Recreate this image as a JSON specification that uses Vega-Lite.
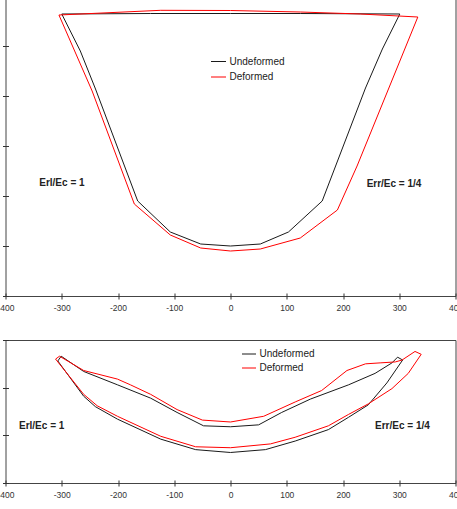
{
  "$schema": "https://vega.github.io/schema/vega-lite/v6.json",
  "padding": {"left": -4.5, "top": -5, "right": 0, "bottom": 0},
  "background": "white",
  "spacing": 27,
  "config": {
    "font": "Liberation Sans",
    "view": {"stroke": "#444444", "strokeWidth": 1},
    "axis": {
      "grid": false,
      "domain": false,
      "ticks": true,
      "tickSize": 6,
      "offset": -3,
      "tickColor": "#333333",
      "labelFontSize": 8.5,
      "labelColor": "#333333",
      "labelPadding": 4,
      "labelFlush": false,
      "labelExpr": "toString(datum.value)",
      "title": null
    },
    "legend": {
      "orient": "none",
      "title": null,
      "padding": 0,
      "symbolType": "stroke",
      "symbolStrokeWidth": 1,
      "labelFontSize": 10,
      "labelColor": "#222222",
      "labelOffset": 3
    },
    "text": {"font": "Liberation Sans"}
  },
  "resolve": {"legend": {"color": "independent"}},
  "vconcat": [
    {
      "width": 450,
      "height": 300,
      "layer": [
        {
          "data": {
            "values": [
              {"series": "Undeformed", "i": 1, "x": -300, "y": 282},
              {"series": "Undeformed", "i": 2, "x": -267, "y": 245},
              {"series": "Undeformed", "i": 3, "x": -240, "y": 207},
              {"series": "Undeformed", "i": 4, "x": -165, "y": 95},
              {"series": "Undeformed", "i": 5, "x": -107, "y": 64},
              {"series": "Undeformed", "i": 6, "x": -53, "y": 52},
              {"series": "Undeformed", "i": 7, "x": 0, "y": 50},
              {"series": "Undeformed", "i": 8, "x": 53, "y": 52},
              {"series": "Undeformed", "i": 9, "x": 103, "y": 64},
              {"series": "Undeformed", "i": 10, "x": 163, "y": 95},
              {"series": "Undeformed", "i": 11, "x": 240, "y": 208},
              {"series": "Undeformed", "i": 12, "x": 270, "y": 247},
              {"series": "Undeformed", "i": 13, "x": 301, "y": 282},
              {"series": "Undeformed", "i": 14, "x": 124, "y": 282.5},
              {"series": "Undeformed", "i": 15, "x": 0, "y": 282.5},
              {"series": "Undeformed", "i": 16, "x": -142, "y": 282.5},
              {"series": "Undeformed", "i": 17, "x": -300, "y": 282},
              {"series": "Deformed", "i": 1, "x": -305, "y": 281},
              {"series": "Deformed", "i": 2, "x": -246, "y": 205},
              {"series": "Deformed", "i": 3, "x": -171, "y": 92},
              {"series": "Deformed", "i": 4, "x": -107, "y": 61},
              {"series": "Deformed", "i": 5, "x": -53, "y": 48},
              {"series": "Deformed", "i": 6, "x": 0, "y": 45},
              {"series": "Deformed", "i": 7, "x": 53, "y": 47},
              {"series": "Deformed", "i": 8, "x": 124, "y": 58},
              {"series": "Deformed", "i": 9, "x": 190, "y": 86},
              {"series": "Deformed", "i": 10, "x": 225, "y": 130},
              {"series": "Deformed", "i": 11, "x": 333, "y": 279},
              {"series": "Deformed", "i": 12, "x": 231, "y": 282},
              {"series": "Deformed", "i": 13, "x": 124, "y": 284},
              {"series": "Deformed", "i": 14, "x": 0, "y": 285.5},
              {"series": "Deformed", "i": 15, "x": -124, "y": 285.7},
              {"series": "Deformed", "i": 16, "x": -305, "y": 281}
            ]
          },
          "mark": {"type": "line", "strokeWidth": 1},
          "encoding": {
            "x": {"field": "x", "type": "quantitative", "scale": {"domain": [-400, 400], "nice": false}, "axis": {"values": [-400, -300, -200, -100, 0, 100, 200, 300, 400]}},
            "y": {"field": "y", "type": "quantitative", "scale": {"domain": [0, 300], "nice": false}, "axis": {"values": [0, 50, 100, 150, 200, 250, 300], "labels": false}},
            "order": {"field": "i", "type": "quantitative"},
            "color": {
              "field": "series",
              "type": "nominal",
              "scale": {"domain": ["Undeformed", "Deformed"], "range": ["#1a1a1a", "#ff0000"]},
              "legend": {"legendX": 205, "legendY": 57.5, "symbolSize": 225, "rowPadding": 2.5}
            }
          }
        },
        {
          "data": {
            "values": [
              {"label": "Erl/Ec = 1", "x": -340, "y": 113},
              {"label": "Err/Ec = 1/4", "x": 242, "y": 112}
            ]
          },
          "mark": {"type": "text", "fontWeight": "bold", "fontSize": 10, "align": "left", "baseline": "middle", "color": "#222222"},
          "encoding": {
            "x": {"field": "x", "type": "quantitative"},
            "y": {"field": "y", "type": "quantitative"},
            "text": {"field": "label"}
          }
        }
      ]
    },
    {
      "width": 450,
      "height": 143,
      "layer": [
        {
          "data": {
            "values": [
              {"series": "Undeformed", "i": 1, "x": -307, "y": 128},
              {"series": "Undeformed", "i": 2, "x": -301, "y": 133},
              {"series": "Undeformed", "i": 3, "x": -261, "y": 117},
              {"series": "Undeformed", "i": 4, "x": -201, "y": 103},
              {"series": "Undeformed", "i": 5, "x": -142, "y": 89},
              {"series": "Undeformed", "i": 6, "x": -95, "y": 74},
              {"series": "Undeformed", "i": 7, "x": -48, "y": 60},
              {"series": "Undeformed", "i": 8, "x": 0, "y": 59},
              {"series": "Undeformed", "i": 9, "x": 50, "y": 61},
              {"series": "Undeformed", "i": 10, "x": 91, "y": 74},
              {"series": "Undeformed", "i": 11, "x": 142, "y": 88},
              {"series": "Undeformed", "i": 12, "x": 210, "y": 103},
              {"series": "Undeformed", "i": 13, "x": 257, "y": 115},
              {"series": "Undeformed", "i": 14, "x": 287, "y": 126},
              {"series": "Undeformed", "i": 15, "x": 297, "y": 132},
              {"series": "Undeformed", "i": 16, "x": 306, "y": 129},
              {"series": "Undeformed", "i": 17, "x": 278, "y": 105},
              {"series": "Undeformed", "i": 18, "x": 245, "y": 82},
              {"series": "Undeformed", "i": 19, "x": 210, "y": 69},
              {"series": "Undeformed", "i": 20, "x": 174, "y": 56},
              {"series": "Undeformed", "i": 21, "x": 115, "y": 44},
              {"series": "Undeformed", "i": 22, "x": 62, "y": 35},
              {"series": "Undeformed", "i": 23, "x": 0, "y": 32},
              {"series": "Undeformed", "i": 24, "x": -62, "y": 35},
              {"series": "Undeformed", "i": 25, "x": -124, "y": 46},
              {"series": "Undeformed", "i": 26, "x": -201, "y": 67},
              {"series": "Undeformed", "i": 27, "x": -240, "y": 80},
              {"series": "Undeformed", "i": 28, "x": -261, "y": 91},
              {"series": "Undeformed", "i": 29, "x": -307, "y": 128},
              {"series": "Deformed", "i": 1, "x": -311, "y": 130},
              {"series": "Deformed", "i": 2, "x": -304, "y": 133},
              {"series": "Deformed", "i": 3, "x": -261, "y": 118},
              {"series": "Deformed", "i": 4, "x": -201, "y": 109},
              {"series": "Deformed", "i": 5, "x": -178, "y": 103},
              {"series": "Deformed", "i": 6, "x": -142, "y": 93},
              {"series": "Deformed", "i": 7, "x": -95, "y": 77},
              {"series": "Deformed", "i": 8, "x": -50, "y": 66},
              {"series": "Deformed", "i": 9, "x": 0, "y": 64},
              {"series": "Deformed", "i": 10, "x": 59, "y": 70},
              {"series": "Deformed", "i": 11, "x": 115, "y": 85},
              {"series": "Deformed", "i": 12, "x": 162, "y": 97},
              {"series": "Deformed", "i": 13, "x": 207, "y": 118},
              {"series": "Deformed", "i": 14, "x": 240, "y": 125},
              {"series": "Deformed", "i": 15, "x": 266, "y": 126},
              {"series": "Deformed", "i": 16, "x": 293, "y": 127},
              {"series": "Deformed", "i": 17, "x": 305, "y": 129},
              {"series": "Deformed", "i": 18, "x": 328, "y": 138},
              {"series": "Deformed", "i": 19, "x": 339, "y": 135},
              {"series": "Deformed", "i": 20, "x": 316, "y": 115},
              {"series": "Deformed", "i": 21, "x": 287, "y": 99},
              {"series": "Deformed", "i": 22, "x": 245, "y": 83},
              {"series": "Deformed", "i": 23, "x": 210, "y": 72},
              {"series": "Deformed", "i": 24, "x": 174, "y": 60},
              {"series": "Deformed", "i": 25, "x": 115, "y": 48},
              {"series": "Deformed", "i": 26, "x": 71, "y": 41},
              {"series": "Deformed", "i": 27, "x": 0, "y": 37},
              {"series": "Deformed", "i": 28, "x": -62, "y": 38},
              {"series": "Deformed", "i": 29, "x": -124, "y": 49},
              {"series": "Deformed", "i": 30, "x": -201, "y": 70},
              {"series": "Deformed", "i": 31, "x": -237, "y": 81},
              {"series": "Deformed", "i": 32, "x": -261, "y": 93},
              {"series": "Deformed", "i": 33, "x": -311, "y": 130}
            ]
          },
          "mark": {"type": "line", "strokeWidth": 1},
          "encoding": {
            "x": {"field": "x", "type": "quantitative", "scale": {"domain": [-400, 400], "nice": false}, "axis": {"values": [-400, -300, -200, -100, 0, 100, 200, 300, 400]}},
            "y": {"field": "y", "type": "quantitative", "scale": {"domain": [0, 150], "nice": false}, "axis": {"values": [0, 50, 100, 150], "labels": false}},
            "order": {"field": "i", "type": "quantitative"},
            "color": {
              "field": "series",
              "type": "nominal",
              "scale": {"domain": ["Undeformed", "Deformed"], "range": ["#1a1a1a", "#ff0000"]},
              "legend": {"legendX": 236, "legendY": 6.5, "symbolSize": 196, "rowPadding": 1}
            }
          }
        },
        {
          "data": {
            "values": [
              {"label": "Erl/Ec = 1", "x": -376, "y": 60},
              {"label": "Err/Ec = 1/4", "x": 257, "y": 60}
            ]
          },
          "mark": {"type": "text", "fontWeight": "bold", "fontSize": 10, "align": "left", "baseline": "middle", "color": "#222222"},
          "encoding": {
            "x": {"field": "x", "type": "quantitative"},
            "y": {"field": "y", "type": "quantitative"},
            "text": {"field": "label"}
          }
        }
      ]
    }
  ]
}
